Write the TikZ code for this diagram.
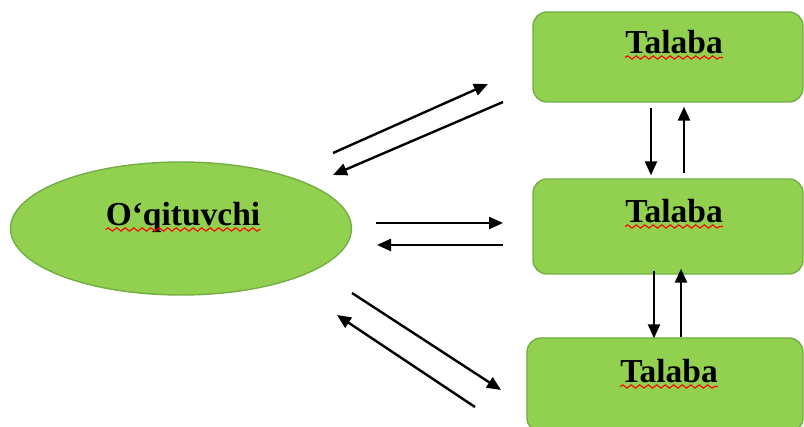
\documentclass[tikz,border=0pt]{standalone}
\usepackage{fontspec}
\setmainfont{Liberation Serif}
\usepackage{tikz}
\usetikzlibrary{arrows.meta, shapes.geometric, positioning, decorations.pathmorphing}
\definecolor{leafgreen}{HTML}{92D050}
\definecolor{leafedge}{HTML}{72AE44}
\tikzset{
    teacher/.style={ellipse, draw=leafedge, line width=1.4pt, fill=leafgreen, minimum width=341pt, minimum height=133pt, inner sep=0pt},
    student/.style={rectangle, rounded corners=14pt, draw=leafedge, line width=1.4pt, fill=leafgreen, minimum width=270pt, inner sep=0pt},
    word/.style={font=\fontsize{33.5}{40}\selectfont\bfseries, inner sep=0pt, anchor=base},
    wavy/.style={draw=red, line width=1.1pt, decorate, decoration={snake, amplitude=1.6pt, segment length=8.5pt}},
    arrow/.style={-{Triangle[length=14pt, width=12pt]}, line width=2.4pt}
}

\begin{document}
\begin{tikzpicture}[x=1pt, y=-1pt]
    \clip (0,0) rectangle (804,427);

    % Teacher and students
    \node[teacher] (teach) at (181,228.5) {};
    \node[student, minimum height=90pt] (stud1) at (668,57) {};
    \node[student, minimum height=95pt] (stud2) at (668,226.5) {};
    \node[student, minimum height=94pt, minimum width=276pt] (stud3) at (665,385) {};

    % Labels with spell-check underline
    \node[word] (lteach) at ([xshift=2pt, yshift=2.5pt]teach.center) {O\symbol{"60}qituvchi};
    \node[word] (lstud1) at ([xshift=6pt, yshift=3pt]stud1.center) {Talaba};
    \node[word] (lstud2) at ([xshift=6pt, yshift=3.5pt]stud2.center) {Talaba};
    \node[word] (lstud3) at ([xshift=4pt, yshift=2pt]stud3.center) {Talaba};
    \foreach \w in {lteach, lstud1, lstud2, lstud3}
        \draw[wavy] ([yshift=-3.5pt]\w.base west) -- ([yshift=-3.5pt]\w.base east);

    % Arrow ends between teacher and students
    \coordinate (up1s) at (333,153);   \coordinate (up1e) at (488,84);
    \coordinate (up2s) at (503,102);   \coordinate (up2e) at (333,175);
    \coordinate (mid1s) at (376,223);  \coordinate (mid1e) at (503,223);
    \coordinate (mid2s) at (503,245);  \coordinate (mid2e) at (377,245);
    \coordinate (low1s) at (352,293);  \coordinate (low1e) at (501,390);
    \coordinate (low2s) at (475,407);  \coordinate (low2e) at (337,315);

    \draw[arrow] (up1s) -- (up1e);
    \draw[arrow] (up2s) -- (up2e);
    \draw[arrow] (mid1s) -- (mid1e);
    \draw[arrow] (mid2s) -- (mid2e);
    \draw[arrow] (low1s) -- (low1e);
    \draw[arrow] (low2s) -- (low2e);

    % Arrows between students
    \draw[arrow, shorten <=5pt, shorten >=3pt] ([xshift=-17pt]stud1.south) -- ([xshift=-17pt]stud2.north);
    \draw[arrow, shorten <=5pt, shorten >=4pt] ([xshift=16pt]stud2.north) -- ([xshift=16pt]stud1.south);
    \draw[arrow, shorten <=-4pt, shorten >=-1pt] ([xshift=-14pt]stud2.south) -- ([xshift=-11pt]stud3.north);
    \draw[arrow, shorten >=-6pt] ([xshift=16pt]stud3.north) -- ([xshift=13pt]stud2.south);
\end{tikzpicture}
\end{document}
